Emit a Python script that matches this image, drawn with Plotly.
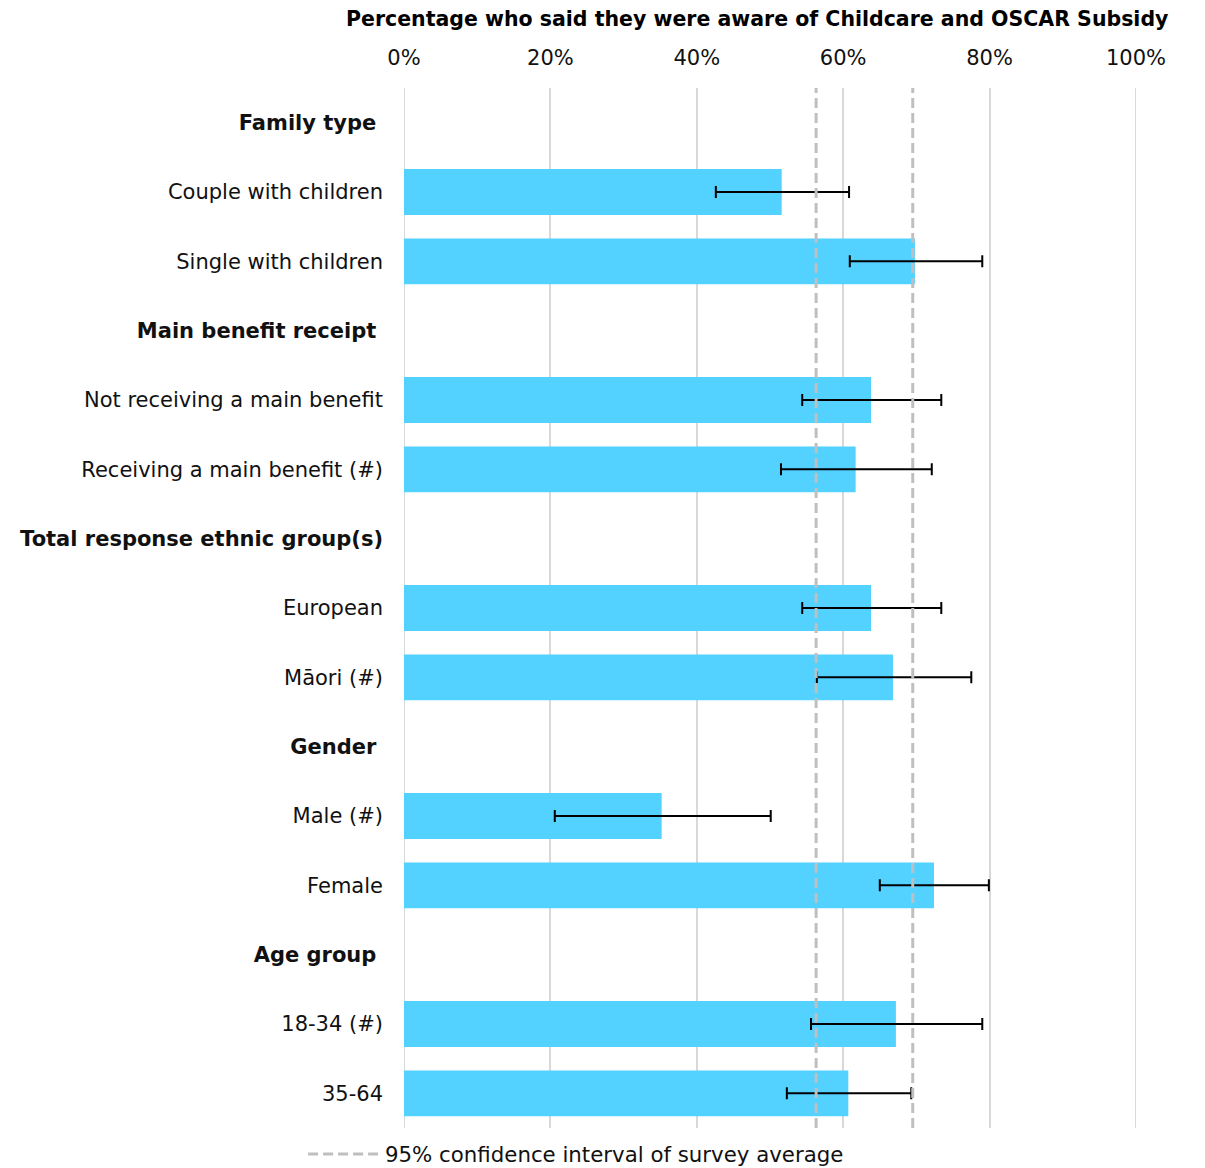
import plotly.graph_objects as go

categories = [
    "Family type", "Couple with children", "Single with children",
    "Main benefit receipt", "Not receiving a main benefit", "Receiving a main benefit (#)",
    "Total response ethnic group(s)", "European", "Māori (#)",
    "Gender", "Male (#)", "Female",
    "Age group", "18-34 (#)", "35-64",
]
headers = {"Family type", "Main benefit receipt", "Total response ethnic group(s)", "Gender", "Age group"}

values = [None, 51.6, 69.8, None, 63.8, 61.7, None, 63.8, 66.8, None, 35.2, 72.4, None, 67.2, 60.7]
ci_lower = [None, 42.6, 60.9, None, 54.4, 51.5, None, 54.4, 56.4, None, 20.6, 65.0, None, 55.6, 52.3]
ci_upper = [None, 60.8, 79.0, None, 73.4, 72.1, None, 73.4, 77.5, None, 50.1, 79.9, None, 79.0, 69.3]
survey_ci = [56.3, 69.5]

x_ticks = [0, 20, 40, 60, 80, 100]
x_ticklabels = ["0%", "20%", "40%", "60%", "80%", "100%"]

title_text = "Percentage who said they were aware of Childcare and OSCAR Subsidy"
legend_text = "95% confidence interval of survey average"

FONT = "DejaVu Sans"
BAR = "#53D2FF"
GRID = "#D9D9D9"
DASH = "#BFBFBF"
TXT = "#111111"

err_plus = [None if v is None else u - v for v, u in zip(values, ci_upper)]
err_minus = [None if v is None else v - l for v, l in zip(values, ci_lower)]

ticktext = []
for c in categories:
    if c in headers:
        pad = "" if c.startswith("Total") else "\u00a0"
        ticktext.append(f"<b>{c}</b>{pad}")
    else:
        ticktext.append(c)

W, H = 1197, 1160  # page body has an 8px margin

fig = go.Figure()
fig.add_trace(go.Bar(
    x=values, y=categories, orientation="h",
    marker=dict(color=BAR, line=dict(width=0)),
    error_x=dict(type="data", symmetric=False, array=err_plus, arrayminus=err_minus,
                 color="black", thickness=2, width=6),
    showlegend=False, hoverinfo="x+y",
))

for v in survey_ci:
    fig.add_vline(x=v, line=dict(color=DASH, width=3, dash="10px,5px"), layer="above")

for v in (x_ticks[0], x_ticks[-1]):
    fig.add_vline(x=v, line=dict(color=GRID, width=2), layer="below")

# legend sample
fig.add_shape(type="line", xref="paper", yref="paper", x0=-0.131, x1=-0.0355, y0=-0.025, y1=-0.025,
              line=dict(color=DASH, width=3, dash="10px,5px"))
fig.add_annotation(xref="paper", yref="paper", x=-0.029, y=-0.025, xanchor="left", yanchor="middle",
                   text=legend_text, showarrow=False, font=dict(family=FONT, size=21.3, color=TXT))

# title as annotation (kept fully inside the page)
fig.add_annotation(xref="paper", yref="paper", x=(757 - 404) / 732, y=1 + (88 - 19) / 1040,
                   xanchor="center", yanchor="middle", showarrow=False,
                   text=f"<b>{title_text}</b>", font=dict(family=FONT, size=20.5, color="black"))

fig.update_layout(
    width=W, height=H,
    margin=dict(l=396, r=69, t=80, b=40),
    paper_bgcolor="white", plot_bgcolor="white",
    bargap=0.34,
    font=dict(family=FONT, size=21, color=TXT),
    xaxis=dict(side="top", range=[0, 100], tickvals=x_ticks, ticktext=x_ticklabels,
               showgrid=True, gridcolor=GRID, gridwidth=2, zeroline=False,
               showline=False, ticks="", ticklabelstandoff=18,
               tickfont=dict(family=FONT, size=21, color=TXT)),
    yaxis=dict(type="category", categoryorder="array", categoryarray=categories,
               tickvals=categories, ticktext=ticktext, autorange="reversed",
               showgrid=False, zeroline=False, showline=False, ticks="",
               ticklabelstandoff=20, tickfont=dict(family=FONT, size=21, color=TXT)),
)

fig.write_html("out.html")
